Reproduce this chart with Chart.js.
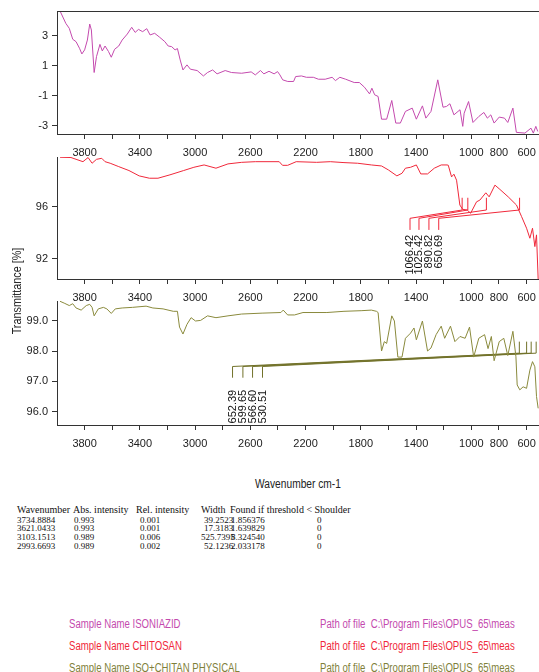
<!DOCTYPE html>
<html>
<head>
<meta charset="utf-8">
<script src="https://cdn.jsdelivr.net/npm/chart.js@4.4.1/dist/chart.umd.min.js"></script>
<style>
body{margin:0;background:#fff;}
#wrap{position:relative;width:539px;height:672px;overflow:hidden;background:#fff;}
canvas{position:absolute;left:0;}
.t{position:absolute;white-space:nowrap;}
.sans{font-family:'Liberation Sans',Arial,sans-serif;font-size:12px;line-height:12px;}
.narrow{transform:scaleX(0.8);transform-origin:0 50%;}
.serif{font-family:'Liberation Serif','Times New Roman',serif;font-size:10px;line-height:10px;color:#111;}
.num{font-size:9px;line-height:10px;}
</style>
</head>
<body>
<div id="wrap">
  <canvas id="c1" width="539" height="164" style="top:0px"></canvas>
  <canvas id="c2" width="539" height="161" style="top:148px"></canvas>
  <canvas id="c3" width="539" height="162" style="top:293px"></canvas>
  <div class="t sans" style="left:-43px;top:285px;width:120px;text-align:center;transform:rotate(-90deg) scaleX(0.9);color:#222">Transmittance [%]</div>
  <div class="t sans" style="left:57px;top:478px;width:482px;text-align:center;transform:scaleX(0.85);color:#222">Wavenumber cm-1</div>
  <div id="table"></div>
  <div id="samples"></div>
</div>
<script>
// Axis ticks (cm-1)
let xTickMarks=[600,800,1000,1200,1400,1600,1800,2000,2200,2400,2600,2800,3000,3200,3400,3600,3800];
let xTickLabels=[600,800,1000,1400,1800,2200,2600,3000,3400,3800];

// Isoniazid
let isoWn=[3978,3936,3911,3886,3862,3837,3820,3800,3780,3763,
  3751,3731,3714,3689,3672,3652,3627,3607,3583,3553,
  3528,3491,3459,3434,3410,3380,3350,3326,3293,3256,
  3219,3195,3170,3145,3128,3108,3088,3059,3034,2985,
  2940,2910,2873,2841,2782,2737,2663,2594,2564,2527,
  2502,2465,2428,2403,2386,2366,2329,2287,2272,2230,
  2194,2144,2107,2058,2008,1984,1952,1910,1848,1811,
  1774,1737,1720,1700,1675,1650,1613,1576,1547,1514,
  1477,1428,1398,1354,1329,1292,1243,1205,1180,1155,
  1126,1082,1062,1052,1020,988,946,909,884,859,
  835,798,760,736,699,674,612,568,551,533,519];
let isoT=[4.67,3.84,3.51,2.78,2.62,2.18,1.80,2.07,2.73,3.80,
  3.40,0.56,1.62,2.44,2.00,2.33,1.96,1.58,2.11,2.33,
  2.73,3.13,3.58,3.24,3.44,3.29,3.49,3.07,3.18,2.91,
  2.62,2.33,2.29,2.07,2.16,1.40,0.73,1.07,0.78,0.69,
  0.33,0.56,0.73,0.47,0.69,0.56,0.51,0.60,0.40,0.69,
  0.47,0.64,0.47,0.62,0.40,0.07,-0.04,-0.04,0.29,0.33,
  0.24,0.24,0.11,0.11,0.24,0.02,0.24,0.11,-0.11,-0.11,
  -0.42,-0.87,-0.49,-0.93,-1.04,-2.56,-2.56,-1.31,-2.82,-2.82,
  -2.04,-1.82,-2.56,-1.67,-2.49,-2.04,0.07,-1.76,-1.71,-1.53,
  -2.27,-1.93,-3.04,-2.16,-1.38,-2.78,-2.38,-2.11,-2.49,-2.27,
  -2.82,-2.42,-2.49,-2.78,-1.82,-3.44,-3.49,-3.16,-3.49,-3.04,-3.38];

// Chitosan
let chitWn=[3978,3899,3812,3775,3746,3714,3676,3652,3615,3553,
  3479,3405,3331,3269,3182,3083,3009,2935,2849,2762,
  2663,2564,2391,2367,2330,2268,2120,2021,1922,1823,
  1724,1650,1601,1539,1502,1477,1440,1398,1366,1317,
  1268,1218,1176,1167,1143,1126,1107,1083,1063,1030,
  1005,962,938,895,871,829,793,733,673,636,
  600,576,557,540,528,516];
let chitT=[99.80,99.78,99.46,99.78,99.34,99.64,99.72,99.46,99.34,99.08,
  98.78,98.37,98.19,98.19,98.45,98.78,99.03,99.21,98.96,99.29,
  99.41,99.46,99.46,99.18,99.18,99.46,99.41,99.46,99.39,99.34,
  99.21,99.13,98.83,98.37,98.57,98.96,99.03,99.21,98.52,98.52,
  98.96,99.21,99.21,99.19,98.29,98.50,98.04,96.13,95.80,95.75,
  95.50,96.38,96.51,97.07,96.76,97.66,97.33,96.76,96.13,95.24,
  94.35,93.58,94.35,92.94,93.84,90.45];
let chitPeaks=[1066.42,1025.42,890.82,650.69];
let chitPeakStubs=[1444,1379,1307,1236];

// ISO + chitan physical mixture
let mixWn=[3978,3948,3911,3886,3862,3825,3788,3763,3746,3731,
  3701,3664,3639,3607,3578,3528,3454,3355,3306,3232,
  3158,3128,3113,3088,3059,3029,2997,2960,2910,2849,
  2762,2663,2515,2379,2362,2330,2280,2219,2046,1922,
  1798,1724,1687,1675,1650,1630,1613,1576,1557,1532,
  1502,1477,1440,1415,1398,1354,1317,1292,1255,1218,
  1193,1151,1119,1082,1045,1013,983,946,904,879,
  855,835,798,765,736,699,677,668,649,625,
  600,576,557,540,528,516];
let mixT=[99.64,99.58,99.50,99.56,99.42,99.35,99.50,99.54,99.44,99.16,
  99.39,99.44,99.39,99.24,99.39,99.42,99.44,99.48,99.42,99.39,
  99.31,99.31,98.79,98.56,98.88,99.10,98.99,99.01,99.16,99.10,
  99.16,99.22,99.25,99.27,99.35,99.19,99.19,99.27,99.27,99.31,
  99.33,99.35,99.31,99.27,98.00,98.31,98.25,99.16,98.99,97.80,
  97.80,98.42,98.59,98.76,98.37,98.99,98.00,98.10,98.54,98.82,
  98.42,98.82,98.31,98.48,98.42,98.79,97.80,98.42,98.54,98.08,
  98.48,97.68,98.31,98.42,97.85,98.65,97.81,96.88,96.72,96.82,
  96.77,97.37,97.65,97.48,96.50,96.11];
let mixPeaks=[652.39,599.65,566.60,530.51];
let mixPeakStubs=[2729,2654,2584,2512];

// Peak table
let tabHead=["Wavenumber","Abs. intensity","Rel. intensity","Width","Found if threshold < Shoulder"];
let tabWn=["3734.8884","3621.0433","3103.1513","2993.6693"];
let tabAbs=["0.993","0.993","0.989","0.989"];
let tabRel=["0.001","0.001","0.006","0.002"];
let tabWidth=["39.2523","17.3183","525.7395","52.1236"];
let tabFound=["1.856376","1.639829","8.324540","2.033178"];
let tabShoulder=["0","0","0","0"];

// Sample names
let sampleNames=["ISONIAZID","CHITOSAN","ISO+CHITAN PHYSICAL"];
let samplePaths=["C:\\Program Files\\OPUS_65\\meas","C:\\Program Files\\OPUS_65\\meas","C:\\Program Files\\OPUS_65\\meas"];
let sampleColors=["#c44aae","#f0283a","#7f7f3a"];

const SANS="'Liberation Sans',Arial,sans-serif";
const AXIS="#333";

function panel(id,p){
  let datasets=[{data:p.wn.map((w,i)=>({x:w,y:p.t[i]})),borderColor:p.color,borderWidth:1,pointRadius:0,tension:0}];
  (p.peaks||[]).forEach((pk,i)=>{
    datasets.push({data:[{x:p.stubs[i],y:p.stubLow},{x:p.stubs[i],y:p.stubHigh},{x:pk,y:p.tickLow},{x:pk,y:p.tickHigh}],
      borderColor:p.markColor,borderWidth:1,pointRadius:0,tension:0});
  });
  let extras={id:'extras',afterDatasetsDraw(chart){
    let ctx=chart.ctx, a=chart.chartArea, sx=chart.scales.x, sy=chart.scales.y;
    ctx.save();
    if(p.topFrame){ctx.strokeStyle=AXIS;ctx.lineWidth=1;ctx.beginPath();ctx.moveTo(a.left,a.top+0.5);ctx.lineTo(a.right,a.top+0.5);ctx.stroke();}
    if(p.peaks){
      ctx.font="11px "+SANS; ctx.fillStyle="#111"; ctx.textAlign="right"; ctx.textBaseline="middle";
      p.peaks.forEach((pk,i)=>{
        ctx.save();
        ctx.translate(sx.getPixelForValue(p.stubs[i]),sy.getPixelForValue(p.labelTop));
        ctx.rotate(-Math.PI/2);
        ctx.fillText(pk.toFixed(2),0,0);
        ctx.restore();
      });
    }
    ctx.restore();
  }};
  new Chart(document.getElementById(id),{
    type:'line',
    data:{datasets:datasets},
    options:{
      responsive:false,animation:false,devicePixelRatio:1,
      layout:{padding:{top:p.padTop,left:0,right:0,bottom:0}},
      plugins:{legend:{display:false},tooltip:{enabled:false}},
      scales:{
        x:{type:'linear',reverse:true,min:510,max:4000,
          afterBuildTicks:s=>{s.ticks=xTickMarks.map(v=>({value:v}));},
          afterFit:s=>{s.height=30;s.paddingLeft=0;s.paddingRight=0;},
          ticks:{autoSkip:false,maxRotation:0,padding:7,color:"#222",font:{family:SANS,size:11},
            callback:v=>xTickLabels.includes(v)?String(v):''},
          grid:{drawOnChartArea:false,drawTicks:true,tickLength:5,color:AXIS},
          border:{display:true,color:AXIS,width:1}},
        y:{type:'linear',min:p.yMin,max:p.yMax,
          afterBuildTicks:s=>{s.ticks=p.yTicks.map(v=>({value:v}));},
          afterFit:s=>{s.width=57;s.paddingTop=0;s.paddingBottom=0;},
          ticks:{padding:4,color:"#222",font:{family:SANS,size:11},callback:v=>v.toFixed(p.dec)},
          grid:{drawOnChartArea:false,drawTicks:true,tickLength:5,color:AXIS},
          border:{display:true,color:AXIS,width:1}}
      }
    },
    plugins:[extras]
  });
}

panel('c1',{wn:isoWn,t:isoT,color:"#c44aae",padTop:11,yMin:-3.55,yMax:4.67,yTicks:[-3,-1,1,3],dec:0,topFrame:true});
panel('c2',{wn:chitWn,t:chitT,color:"#f0283a",padTop:9,yMin:90.45,yMax:99.82,yTicks:[92,96],dec:0,
  peaks:chitPeaks,stubs:chitPeakStubs,stubLow:94.22,stubHigh:95.11,tickLow:95.75,tickHigh:96.69,labelTop:93.84,markColor:"#f0283a"});
panel('c3',{wn:mixWn,t:mixT,color:"#8a8a3c",padTop:8,yMin:95.56,yMax:99.65,yTicks:[96,97,98,99],dec:1,
  peaks:mixPeaks,stubs:mixPeakStubs,stubLow:97.12,stubHigh:97.49,tickLow:97.93,tickHigh:98.31,labelTop:96.72,markColor:"#72722a"});

// Table
let colX=[17,74,140,204,231,317];
let headX=[17,73,136,201,230];
let rowTop=[514.7,523.3,532,540.7];
let tableHtml="";
tabHead.forEach((h,i)=>{tableHtml+='<div class="t serif" style="left:'+headX[i]+'px;top:505px">'+h.replace('<','&lt;')+'</div>';});
tabWn.forEach((w,r)=>{
  let cells=[w,tabAbs[r],tabRel[r],tabWidth[r],tabFound[r],tabShoulder[r]];
  cells.forEach((c,i)=>{
    let x=colX[i]; if(i===3&&c.length>7) x-=3;
    tableHtml+='<div class="t serif num" style="left:'+x+'px;top:'+rowTop[r]+'px">'+c+'</div>';
  });
});
document.getElementById("table").innerHTML=tableHtml;

// Sample names
let sampleTop=[618,640,662];
let sHtml="";
sampleNames.forEach((n,i)=>{
  sHtml+='<div class="t sans narrow" style="left:69px;top:'+sampleTop[i]+'px;color:'+sampleColors[i]+'">Sample Name '+n+'</div>';
  sHtml+='<div class="t sans narrow" style="left:320px;top:'+sampleTop[i]+'px;color:'+sampleColors[i]+'">Path of file&nbsp; '+samplePaths[i]+'</div>';
});
document.getElementById("samples").innerHTML=sHtml;
</script>
</body>
</html>
